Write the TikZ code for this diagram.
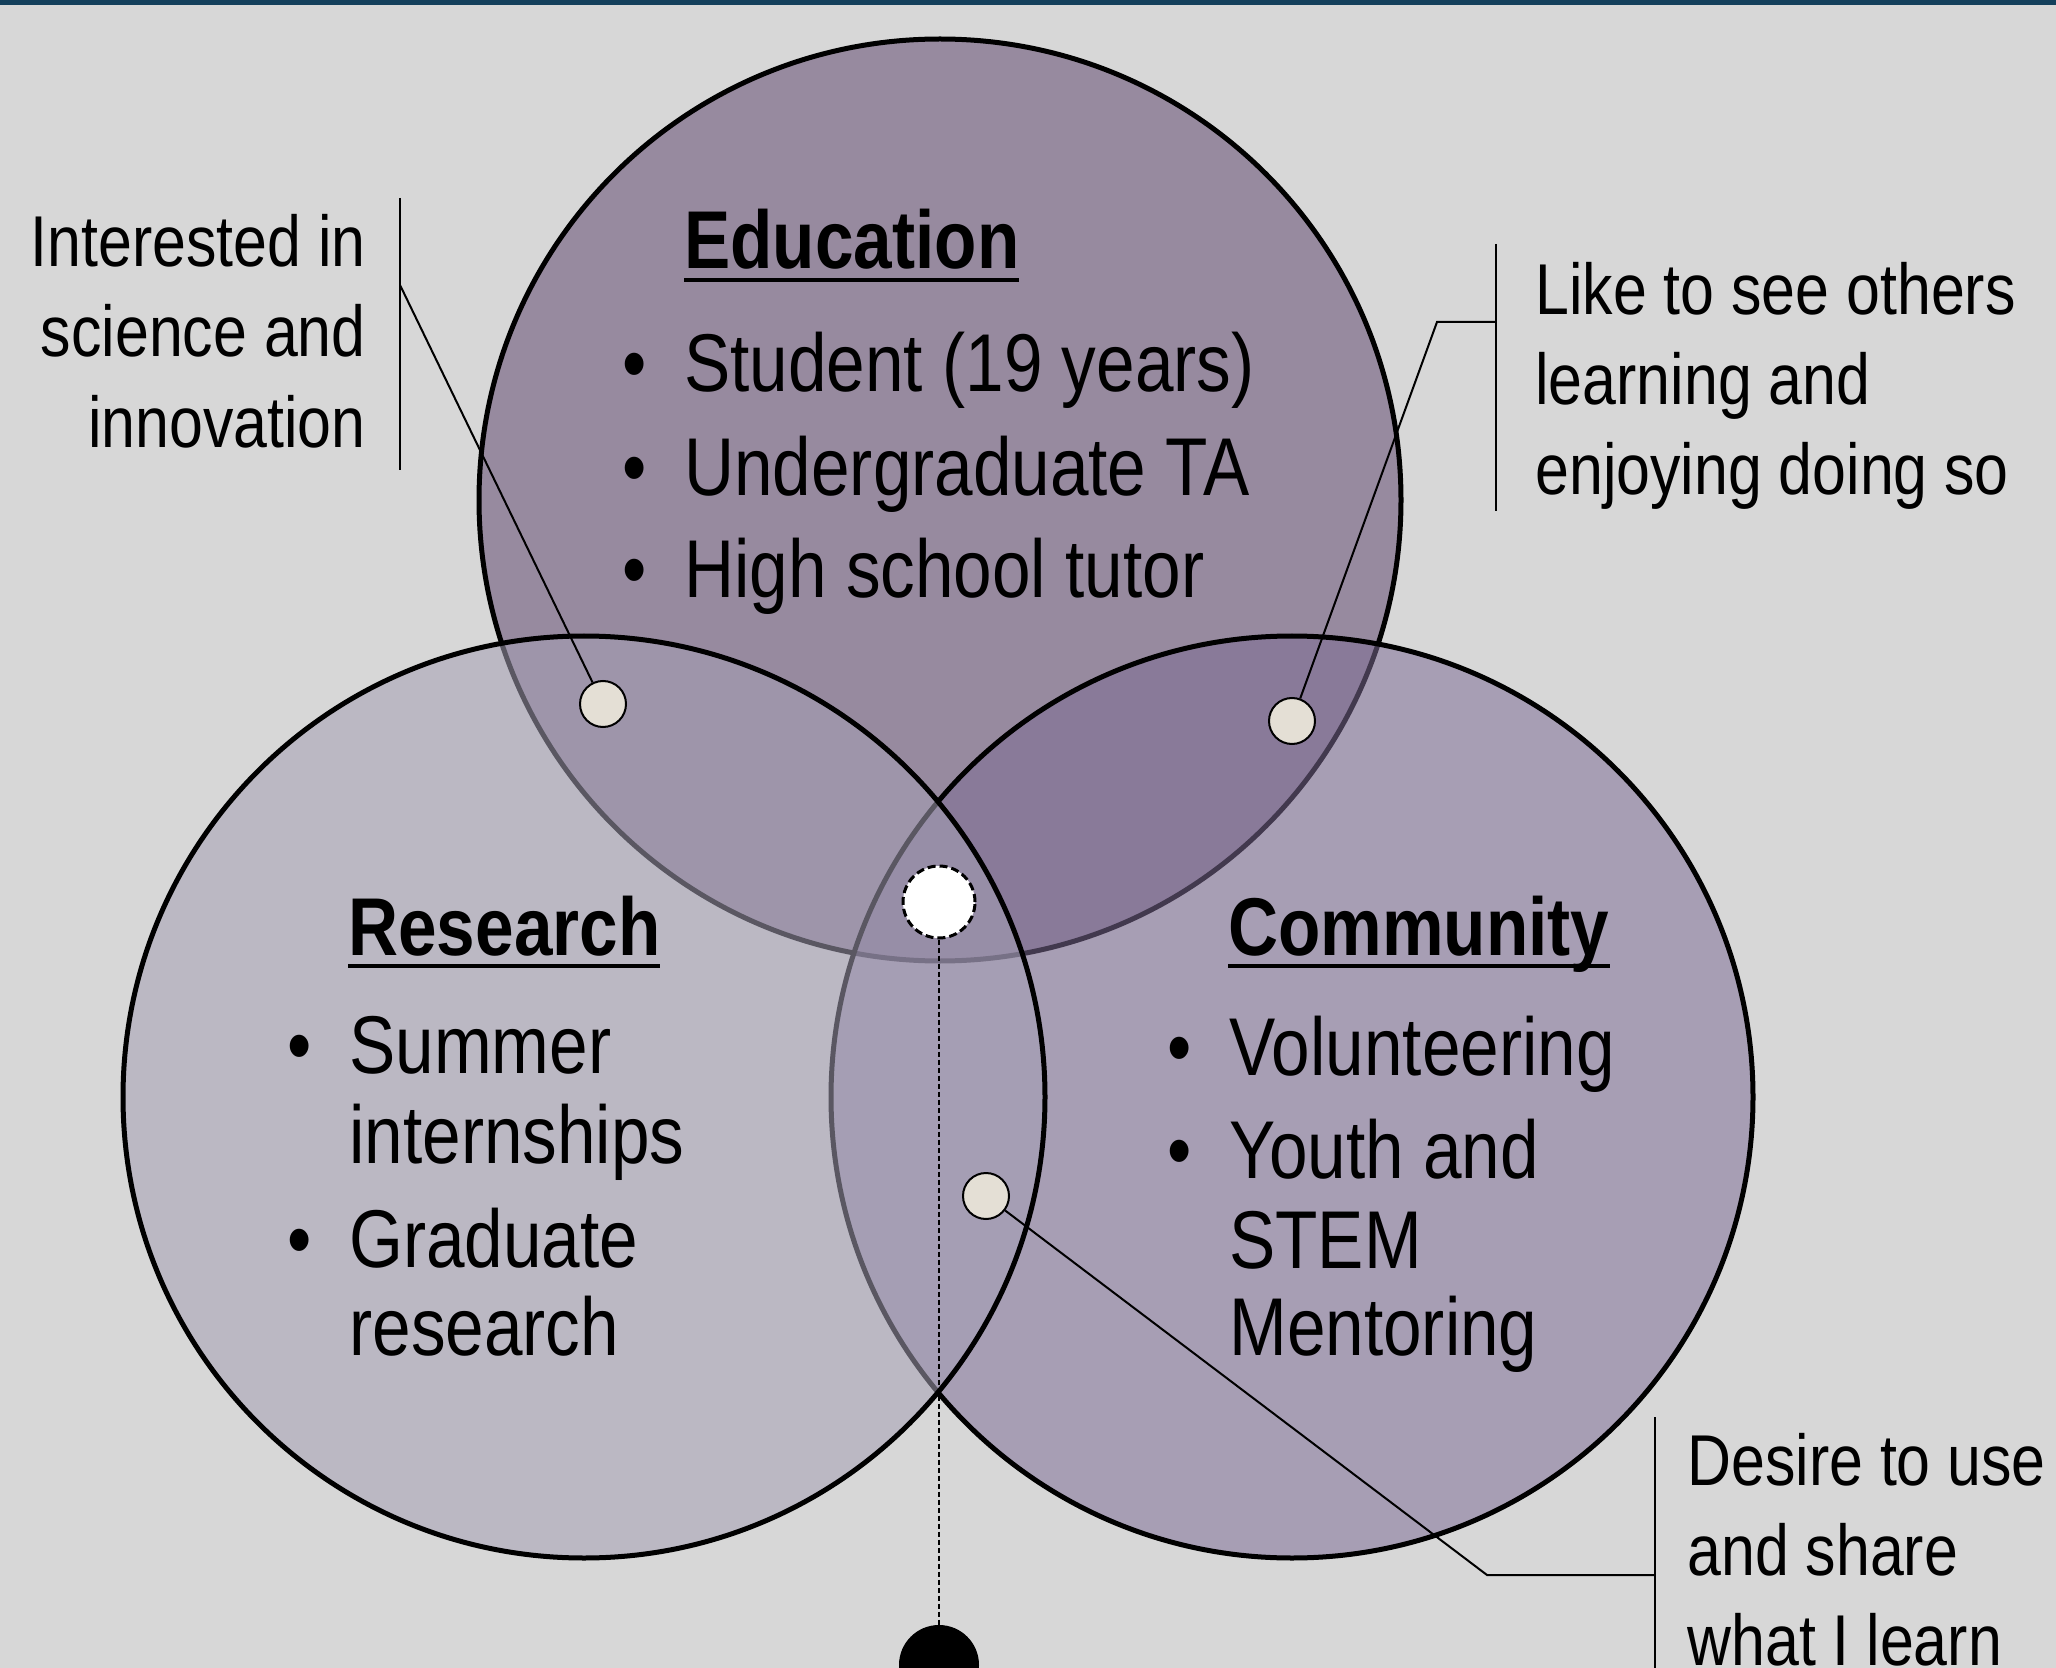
\documentclass[tikz,border=0pt]{standalone}
\usepackage{fontspec}
\setmainfont[FakeStretch=0.845]{Liberation Sans}

\definecolor{paper}{HTML}{D7D7D7}
\definecolor{topband}{HTML}{14405C}
\definecolor{educol}{HTML}{978A9F}
\definecolor{comcol}{HTML}{7E6C95}
\definecolor{rescol}{HTML}{A49FB4}
\definecolor{pinfill}{HTML}{E4DFD5}

% heading with a flat underline just below the baseline
\newcommand\ulhead[1]{\setbox0=\hbox{#1}\rlap{\rule[-6.5pt]{\wd0}{2pt}}\box0}
% bullet followed by a fixed indent
\newcommand\bulitem{\makebox[31pt][l]{•}}

\begin{document}
\begin{tikzpicture}[x=0.5pt,y=-0.5pt,
  ring/.style={line width=2.5pt, draw=black},
  bodytext/.style={inner sep=0pt, anchor=base west, font=\fontsize{41pt}{44pt}\selectfont},
  headtext/.style={inner sep=0pt, anchor=base west, font=\fontsize{41pt}{44pt}\selectfont\bfseries},
  notetext/.style={inner sep=0pt, font=\fontsize{36pt}{45pt}\selectfont},
  leader/.style={line width=1pt, draw=black},
  pin/.style={circle, inner sep=0pt, minimum size=23pt, draw=black, line width=1pt, fill=pinfill},
  hub/.style={circle, inner sep=0pt, minimum size=36pt, draw=black, fill=white, line width=1.5pt, dash pattern=on 4pt off 2pt},
  anchorball/.style={circle, inner sep=0pt, minimum size=40pt, fill=black},
]
\useasboundingbox (0,0) rectangle (2056,1668);
\fill[paper] (0,0) rectangle (2056,1668);
\fill[topband] (0,0) rectangle (2056,5);

% the three sets
\coordinate (ce) at (940,500);
\coordinate (cr) at (584,1097);
\coordinate (cc) at (1292,1097);
\filldraw[ring, fill=educol] (ce) circle [radius=230.5pt];
\filldraw[ring, fill=comcol, fill opacity=0.53] (cc) circle [radius=230.5pt];
\filldraw[ring, fill=rescol, fill opacity=0.55] (cr) circle [radius=230.5pt];

% Education
\node[headtext] (eduhead) at (684,269) {\ulhead{Education}};
\node[bodytext] (edu1) at (622,392) {\bulitem Student (19 years)};
\node[bodytext] (edu2) at (622,496) {\bulitem Undergraduate TA};
\node[bodytext] (edu3) at (622,597) {\bulitem High school tutor};

% Research
\node[headtext] (reshead) at (348,955) {\ulhead{Research}};
\node[bodytext] (res1) at (287,1073) {\bulitem Summer};
\node[bodytext] (res1b) at (349,1163) {internships};
\node[bodytext] (res2) at (287,1267) {\bulitem Graduate};
\node[bodytext] (res2b) at (349,1355) {research};

% Community
\node[headtext] (comhead) at (1228,955) {\ulhead{Community}};
\node[bodytext] (com1) at (1167,1075) {\bulitem Volunteering};
\node[bodytext] (com2) at (1167,1178) {\bulitem Youth and};
\node[bodytext] (com2b) at (1229,1268) {STEM};
\node[bodytext] (com2c) at (1229,1355) {Mentoring};

% pins in the overlaps
\node[pin] (pinER) at (603,704) {};
\node[pin] (pinEC) at (1292,721) {};
\node[pin] (pinRC) at (986,1196) {};

% note: science and innovation
\node[notetext, anchor=base east] (n1a) at (366,267) {Interested in};
\node[notetext, anchor=base east] (n1b) at (366,357) {science and};
\node[notetext, anchor=base east] (n1c) at (366,448) {innovation};
\coordinate (bar1t) at (400,198);
\coordinate (bar1b) at (400,470);
\coordinate (bar1k) at (400,285);
\draw[leader] (bar1t) -- (bar1b);
\draw[leader] (bar1k) -- (pinER);

% note: others learning
\node[notetext, anchor=base west] (n2a) at (1535,315) {Like to see others};
\node[notetext, anchor=base west] (n2b) at (1535,405) {learning and};
\node[notetext, anchor=base west] (n2c) at (1535,495) {enjoying doing so};
\coordinate (bar2t) at (1496,244);
\coordinate (bar2b) at (1496,511);
\coordinate (bar2k) at (1496,322);
\coordinate (bar2e) at (1437,322);
\draw[leader] (bar2t) -- (bar2b);
\draw[leader] (bar2k) -- (bar2e) -- (pinEC);

% note: use and share
\node[notetext, anchor=base west] (n3a) at (1687,1485) {Desire to use};
\node[notetext, anchor=base west] (n3b) at (1687,1575) {and share};
\node[notetext, anchor=base west] (n3c) at (1687,1665) {what I learn};
\coordinate (bar3t) at (1655,1417);
\coordinate (bar3b) at (1655,1690);
\coordinate (bar3k) at (1655,1575);
\coordinate (bar3e) at (1487,1575);
\draw[leader] (bar3t) -- (bar3b);
\draw[leader] (bar3k) -- (bar3e) -- (pinRC);

% centre marker and its stem
\node[hub] (centre) at (939,902) {};
\node[anchorball] (foot) at (939,1665) {};
\draw[line width=1pt, dash pattern=on 2.5pt off 1.5pt] (centre) -- (foot);
\end{tikzpicture}
\end{document}
